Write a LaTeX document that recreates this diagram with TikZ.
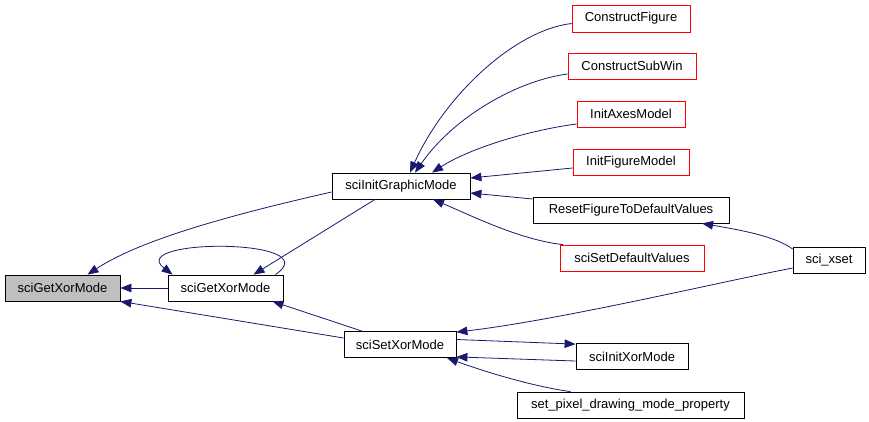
\documentclass[tikz,border=0pt]{standalone}
\usepackage{fontspec}
\setmainfont{Liberation Sans}
\usepackage{tikz}
\usetikzlibrary{arrows.meta}
\definecolor{callblue}{HTML}{191970}
\definecolor{rootgrey}{HTML}{BFBFBF}
\tikzset{
  fn/.style={draw=black, fill=white, line width=0.8pt, inner sep=0pt, minimum height=26pt,
             font=\fontsize{13}{15}\selectfont},
  fnred/.style={fn, draw=red},
  fnroot/.style={fn, fill=rootgrey},
  callarr/.style={-{Triangle[length=11pt,width=8.5pt]}, line width=0.8pt, draw=callblue},
}
\begin{document}
\begin{tikzpicture}[x=1pt,y=-1pt]
  \useasboundingbox (0,0) rectangle (869,421);
  % left part
  \node[fnroot, minimum width=115pt] (gxm) at (62.5,288) {sciGetXorMode};
  \node[fn, minimum width=115pt] (gxm2) at (225.5,288) {sciGetXorMode};
  \node[fn, minimum width=138pt] (igm) at (401,186) {sciInitGraphicMode};
  \node[fn, minimum width=112pt] (ssx) at (400,344.5) {sciSetXorMode};
  % callers of sciInitGraphicMode
  \node[fnred, minimum width=118pt, minimum height=27pt] (cfig) at (631,18.5) {ConstructFigure};
  \node[fnred, minimum width=128pt] (csw) at (632,66) {ConstructSubWin};
  \node[fnred, minimum width=108pt] (iam) at (631,114) {InitAxesModel};
  \node[fnred, minimum width=116pt] (ifm) at (631,162) {InitFigureModel};
  \node[fn, minimum width=196pt] (rfd) at (631,210) {ResetFigureToDefaultValues};
  \node[fnred, minimum width=144pt] (ssdv) at (632,258) {sciSetDefaultValues};
  \node[fn, minimum width=72pt] (sxs) at (829,260) {sci\_xset};
  % callers of sciSetXorMode
  \node[fn, minimum width=112pt] (six) at (632,356.5) {sciInitXorMode};
  \node[fn, minimum width=227pt] (spx) at (630.5,405) {set\_pixel\_drawing\_mode\_property};

  \draw[callarr] ([yshift=-6pt]igm.west) .. controls (230,215) and (140,240) .. ([xshift=25pt]gxm.north);
  \draw[callarr] (gxm2.west) -- (gxm.east);
  \draw[callarr] ([yshift=6.5pt]ssx.west) -- (gxm.south east);
  \draw[callarr] ([xshift=-8pt]gxm2.north east) .. controls (330,238) and (125,238) .. ([xshift=5pt]gxm2.north west);
  \draw[callarr] ([xshift=-26pt]igm.south) -- ([xshift=28pt]gxm2.north);
  \draw[callarr] ([xshift=-38pt]ssx.north) -- ([xshift=47pt]gxm2.south);
  % into sciInitGraphicMode
  \draw[callarr] ([yshift=-5pt]cfig.west) .. controls (515,30) and (445,95) .. ([xshift=9pt]igm.north);
  \draw[callarr] ([yshift=-8pt]csw.west) .. controls (520,80) and (455,115) .. ([xshift=14pt]igm.north);
  \draw[callarr] ([yshift=-10pt]iam.west) .. controls (530,130) and (470,148) .. ([xshift=31pt]igm.north);
  \draw[callarr] ([yshift=-6pt]ifm.west) -- ([yshift=8pt]igm.east);
  \draw[callarr] ([yshift=11pt]rfd.west) -- ([yshift=-7pt]igm.east);
  \draw[callarr] ([xshift=-69pt]ssdv.north) .. controls (520,240) and (470,215) .. ([xshift=32pt]igm.south);
  % sci_xset
  \draw[callarr] ([yshift=11pt]sxs.west) .. controls (775,236) and (740,230) .. ([xshift=71pt]rfd.south);
  \draw[callarr] ([yshift=-8pt]sxs.west) .. controls (720,282) and (560,320) .. ([yshift=-1pt]ssx.north east);
  % into sciSetXorMode
  \draw[callarr] ([yshift=5pt]ssx.east) -- ([yshift=-1pt]six.north west);
  \draw[callarr] ([yshift=-4.5pt]six.west) -- ([yshift=1pt]ssx.south east);
  \draw[callarr] ([xshift=-60pt]spx.north) .. controls (530,386) and (480,370) .. ([xshift=47pt]ssx.south);
\end{tikzpicture}
\end{document}
